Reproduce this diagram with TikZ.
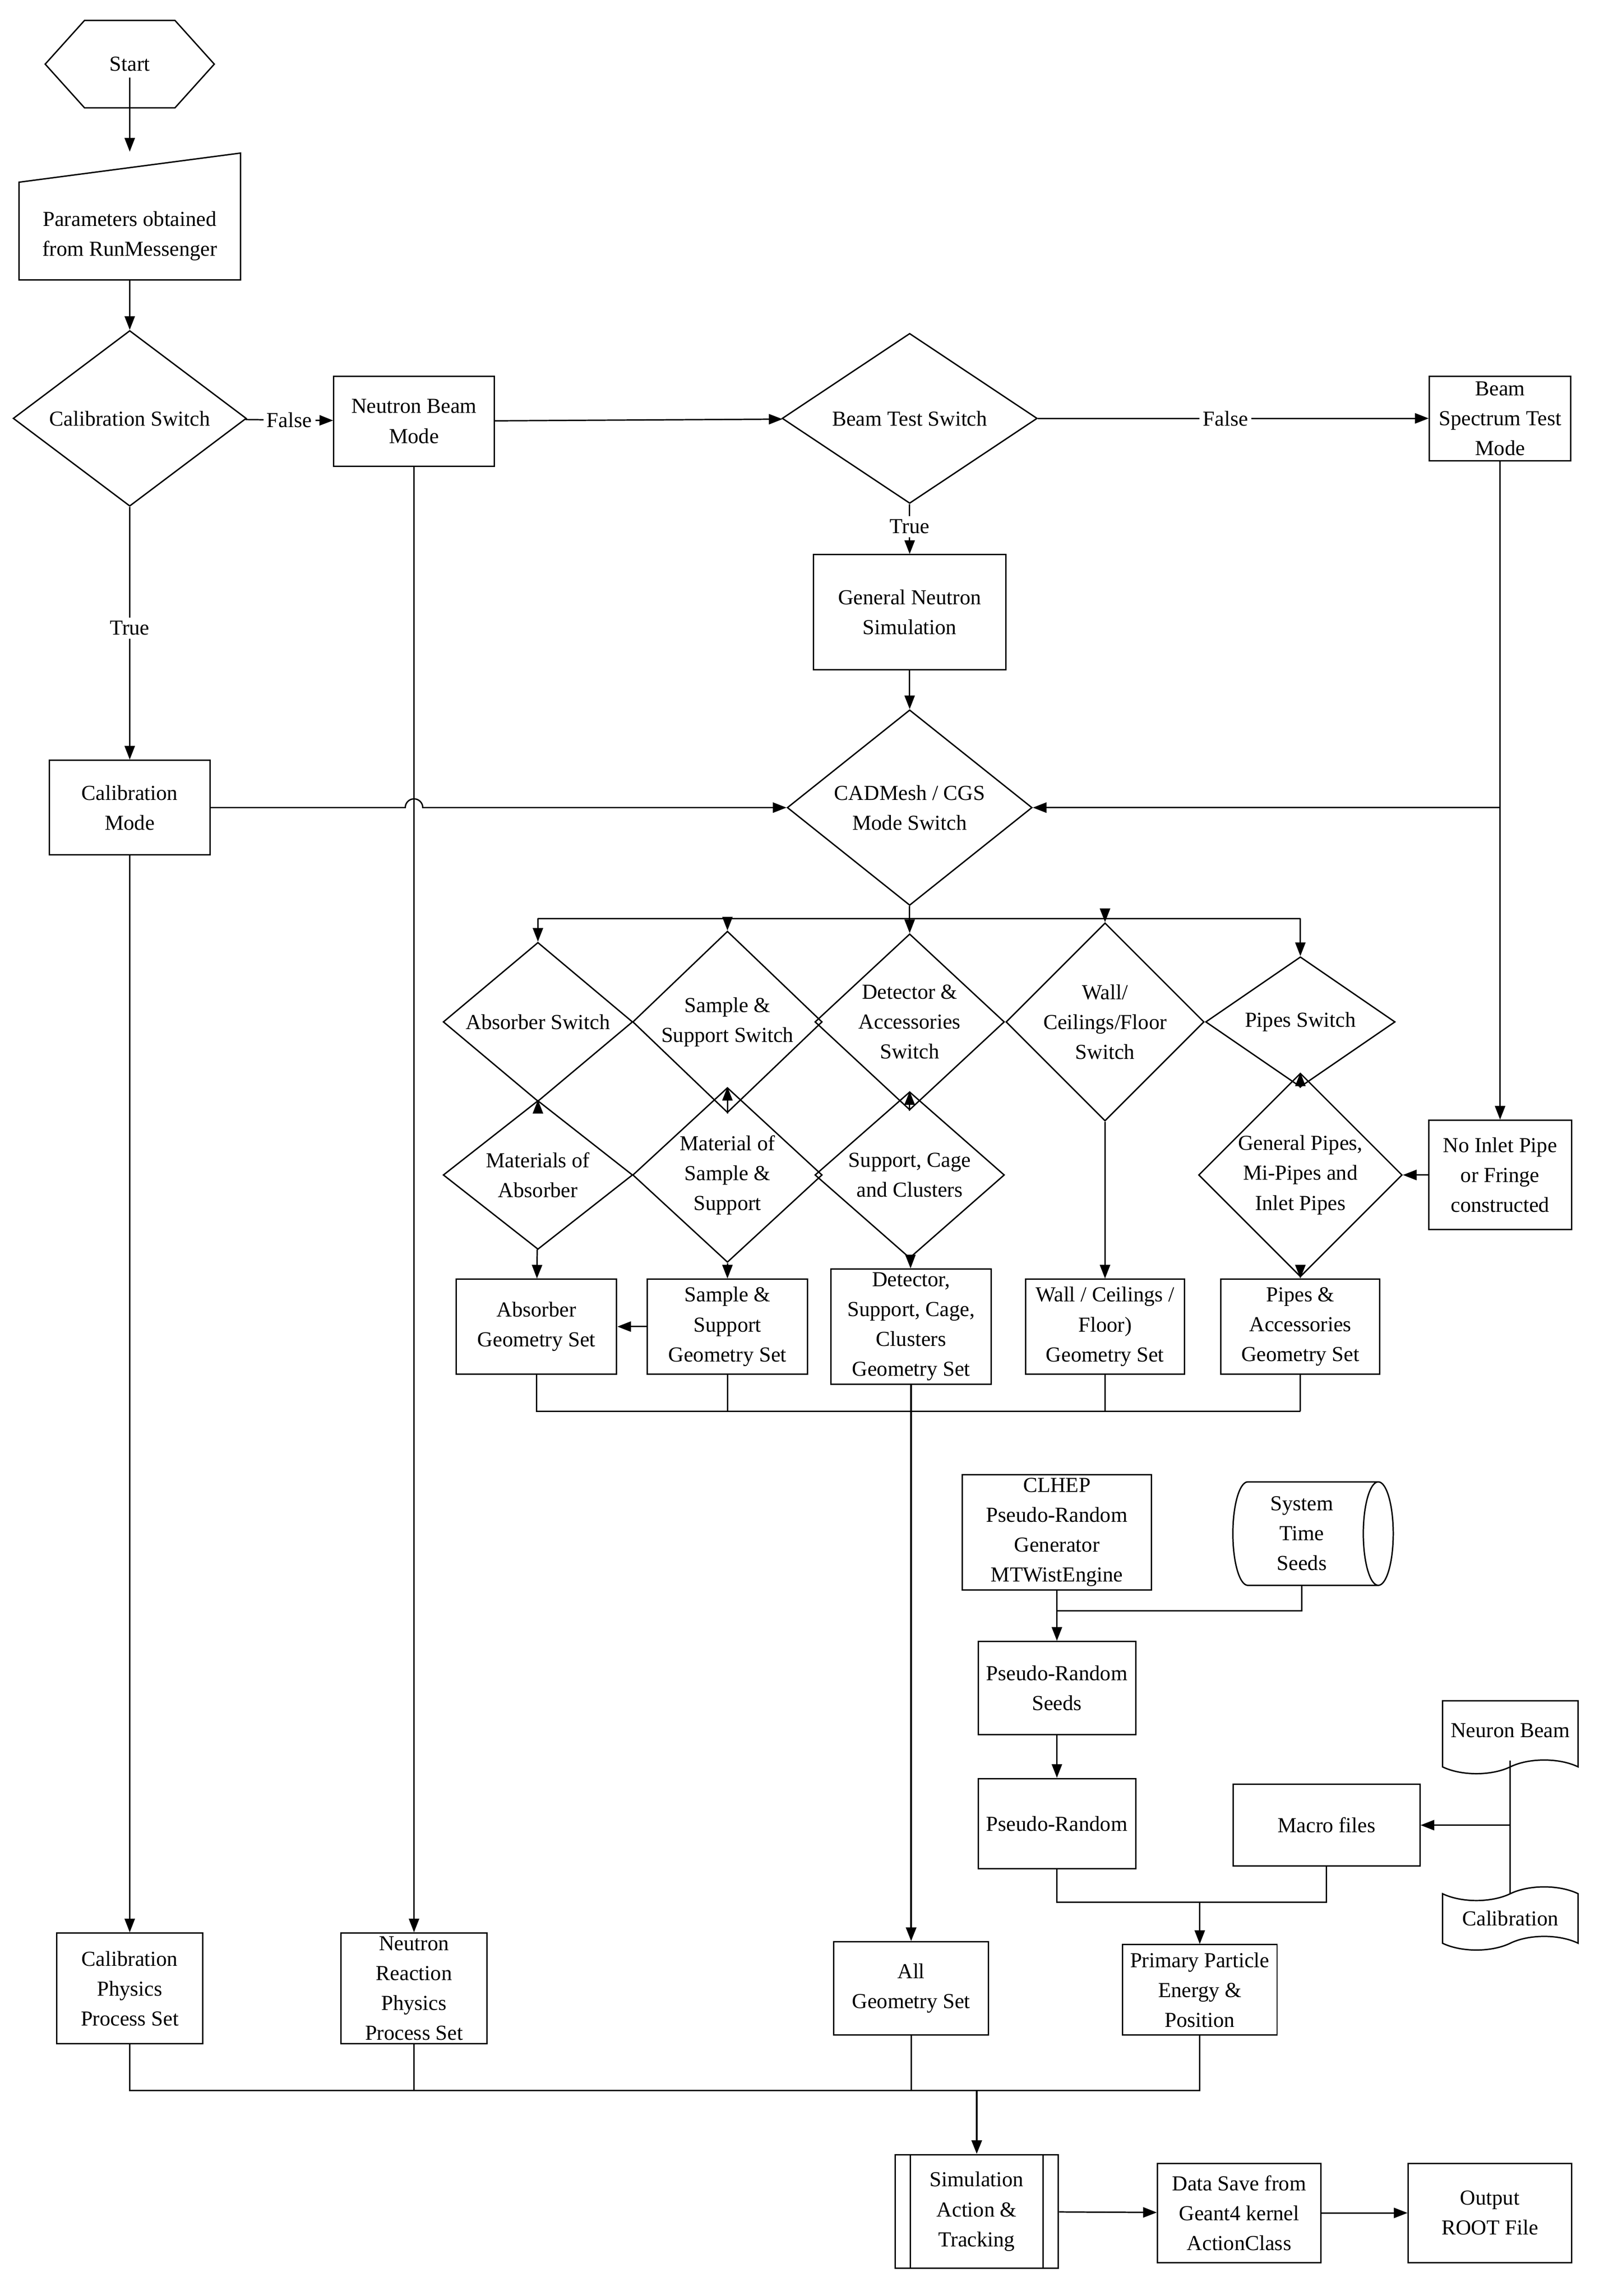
\documentclass[tikz,border=0pt]{standalone}
\usepackage{fontspec}
\setmainfont{Liberation Serif}
\usetikzlibrary{shapes.geometric,shapes.symbols,arrows.meta,positioning,calc}
\tikzset{>={Triangle[length=8pt,width=6pt]}}
\tikzset{
  box/.style={draw,thick,rectangle,align=center,inner sep=2pt},
  dia/.style={draw,thick,diamond,align=center,inner sep=0pt,minimum width=#1},
  lbl/.style={fill=white,inner sep=2pt},
  every node/.style={font=\fontsize{12.5}{17.5}\selectfont}
}

\begin{document}
\begin{tikzpicture}[x=0.03cm,y=-0.03cm,thick]
\useasboundingbox (0,0) rectangle (1100,1575);
% top part
\node (start) at (89,44) {Start};
\draw (31,44)--(58,14)--(120,14)--(147,44)--(120,74)--(58,74)--cycle;
\node[minimum width=4.56cm,minimum height=2.61cm] (par) at (89,148) {};
\node at (89,162) [align=center] {Parameters obtained\\from RunMessenger};
\draw (13,125)--(165,105)--(165,192)--(13,192)--cycle;
\node[dia,minimum width=4.8cm,minimum height=2.85cm] (cs) at (89,287) {Calibration Switch};
\node[box,minimum width=3.3cm,minimum height=1.86cm] (nbm) at (284,289) {Neutron Beam\\Mode};
\node[dia,minimum width=5.25cm,minimum height=3.15cm] (bts) at (624,287) {Beam Test Switch};
\node[box,minimum width=2.91cm,minimum height=1.74cm] (bsm) at (1029,287) {Beam\\Spectrum Test\\Mode};
\node[box,minimum width=3.96cm,minimum height=2.37cm] (gns) at (624,420) {General Neutron\\Simulation};
\node[box,minimum width=3.3cm,minimum height=1.95cm] (cm) at (89,554) {Calibration\\Mode};
\node[dia,minimum width=5.04cm,minimum height=3cm] (cad) at (624,554) {CADMesh / CGS\\Mode Switch};
% switches
\node[dia,minimum width=3.9cm,minimum height=2.3cm] (abs) at (369,701) {Absorber Switch};
\node[dia,minimum width=3.9cm,minimum height=2.3cm] (sam) at (499,701) {Sample \&\\Support Switch};
\node[dia,minimum width=3.9cm,minimum height=2.3cm] (det) at (624,701) {Detector \&\\Accessories\\Switch};
\node[dia,minimum width=3.9cm,minimum height=2.3cm] (wal) at (758,701) {Wall/\\Ceilings/Floor\\Switch};
\node[dia,minimum width=3.9cm,minimum height=2.3cm] (pip) at (892,701) {Pipes Switch};
\node[dia,minimum width=3.9cm,minimum height=2.34cm] (mabs) at (369,806) {Materials of\\Absorber};
\node[dia,minimum width=3.9cm,minimum height=2.34cm] (msam) at (499,806) {Material of\\Sample \&\\Support};
\node[dia,minimum width=3.9cm,minimum height=2.34cm] (mdet) at (624,806) {Support, Cage\\and Clusters};
\node[dia,minimum width=3.9cm,minimum height=2.34cm] (mpip) at (892,806) {General Pipes,\\Mi-Pipes and\\Inlet Pipes};
\node[box,minimum width=2.94cm,minimum height=2.25cm] (noi) at (1029,806) {No Inlet Pipe\\or Fringe\\constructed};
% geometry sets
\node[box,minimum width=3.3cm,minimum height=1.95cm] (gabs) at (368,910) {Absorber\\Geometry Set};
\node[box,minimum width=3.3cm,minimum height=1.95cm] (gsam) at (499,910) {Sample \&\\Support\\Geometry Set};
\node[box,minimum width=3.3cm,minimum height=1.95cm] (gdet) at (625,910) {Detector,\\Support, Cage,\\Clusters\\Geometry Set};
\node[box,minimum width=3.27cm,minimum height=1.95cm] (gwal) at (758,910) {Wall / Ceilings /\\Floor)\\Geometry Set};
\node[box,minimum width=3.27cm,minimum height=1.95cm] (gpip) at (892,910) {Pipes \&\\Accessories\\Geometry Set};
% random part
\node[box,minimum width=3.9cm,minimum height=2.34cm] (clh) at (725,1051) {CLHEP\\Pseudo-Random\\Generator\\MTWistEngine};
\node[draw,thick,cylinder,align=center,minimum width=2.13cm,minimum height=3.3cm,aspect=0.35] (sts) at (893,1052) {System\\Time\\Seeds};
\node[box,minimum width=3.24cm,minimum height=1.92cm] (prs) at (725,1158) {Pseudo-Random\\Seeds};
\node[box,minimum width=3.24cm,minimum height=1.86cm] (pr) at (725,1251) {Pseudo-Random};
\node[box,minimum width=3.84cm,minimum height=1.68cm] (mac) at (910,1252) {Macro files};
\node[draw,thick,tape,tape bend top=none,tape bend height=8pt,minimum width=2.79cm,minimum height=1.5cm,align=center] (nb) at (1036,1187) {Neuron Beam};
\node[draw,thick,tape,tape bend height=8pt,minimum width=2.79cm,minimum height=1.3cm,align=center] (cal) at (1036,1316) {Calibration};
% bottom part
\node[box,minimum width=3cm,minimum height=2.28cm] (cpp) at (89,1364) {Calibration\\Physics\\Process Set};
\node[box,minimum width=3cm,minimum height=2.28cm] (npp) at (284,1364) {Neutron\\Reaction\\Physics\\Process Set};
\node[box,minimum width=3.18cm,minimum height=1.92cm] (ags) at (625,1364) {All\\Geometry Set};
\node[box,minimum width=3.18cm,minimum height=1.86cm] (ppe) at (823,1365) {Primary Particle\\Energy \&\\Position};
\node[box,minimum width=3.36cm,minimum height=2.34cm] (sim) at (670,1517) {Simulation\\Action \&\\Tracking};
\draw ([xshift=0.33cm]sim.north west)--([xshift=0.33cm]sim.south west);
\draw ([xshift=-0.33cm]sim.north east)--([xshift=-0.33cm]sim.south east);
\node[box,minimum width=3.36cm,minimum height=2.04cm] (dsv) at (850,1518) {Data Save from\\Geant4 kernel\\ActionClass};
\node[box,minimum width=3.36cm,minimum height=2.04cm] (out) at (1022,1518) {Output\\ROOT File};
% connectors
\draw[->] (start) -- (par.north);
\draw[->] (par.south) -- (cs);
\draw[->] (cs) -- node[lbl] {False} (nbm);
\draw[->] (cs) -- node[lbl,pos=0.48] {True} (cm);
\draw[->] (nbm) -- (bts);
\draw[->] (bts) -- node[lbl,pos=0.48] {False} (bsm);
\draw[->] (bts) -- node[lbl,pos=0.45] {True} (gns);
\draw[->] (gns) -- (cad);
\draw[->] (cm.east) -- (278,554) arc[start angle=180,end angle=0,radius=0.18cm] -- (cad.west);
\draw[->] (bsm) -- (noi);
\draw[->] (1029,554) -- (cad.east);
\draw[->] (nbm) -- (npp);
\draw[->] (cm) -- (cpp);
\draw (cad.south) -- (624,630);
\draw (369,630) -- (892,630);
\foreach \s/\x in {abs/369,sam/499,det/624,wal/758,pip/892}
  \draw[->] (\x,630) -- (\s.north);
\draw[->] (abs) -- (mabs);
\draw[->] (sam) -- (msam);
\draw[->] (det) -- (mdet);
\draw[->] (pip) -- (mpip);
\draw[->] (wal) -- (gwal);
\draw[->] (mabs) -- (gabs);
\draw[->] (msam) -- (gsam);
\draw[->] (mdet) -- (gdet);
\draw[->] (mpip) -- (gpip);
\draw[->] (gsam) -- (gabs);
\draw[->] (noi) -- (mpip);
\draw (gabs.south) -- (368,968) -- (892,968);
\foreach \g in {gsam,gwal,gpip}
  \draw (\g.south) -- (\g.south |- 0,968);
\draw[->,line width=1.2pt] (gdet) -- (ags);
\draw[->] (clh) -- (prs);
\draw (sts.south) -- (893,1105) -- (725,1105);
\draw[->] (prs) -- (pr);
\draw (nb.south) -- (cal.north);
\draw[->] (1036,1252) -- (mac);
\draw (pr.south) -- (725,1305) -- (910,1305) -- (mac.south);
\draw[->] (823,1305) -- (ppe);
\draw (cpp.south) -- (89,1434) -- (823,1434) -- (ppe.south);
\foreach \b in {npp,ags}
  \draw (\b.south) -- (\b.south |- 0,1434);
\draw[->,line width=1.2pt] (670,1434) -- (sim);
\draw[->] (sim) -- (dsv);
\draw[->] (dsv) -- (out);
\end{tikzpicture}
\end{document}
